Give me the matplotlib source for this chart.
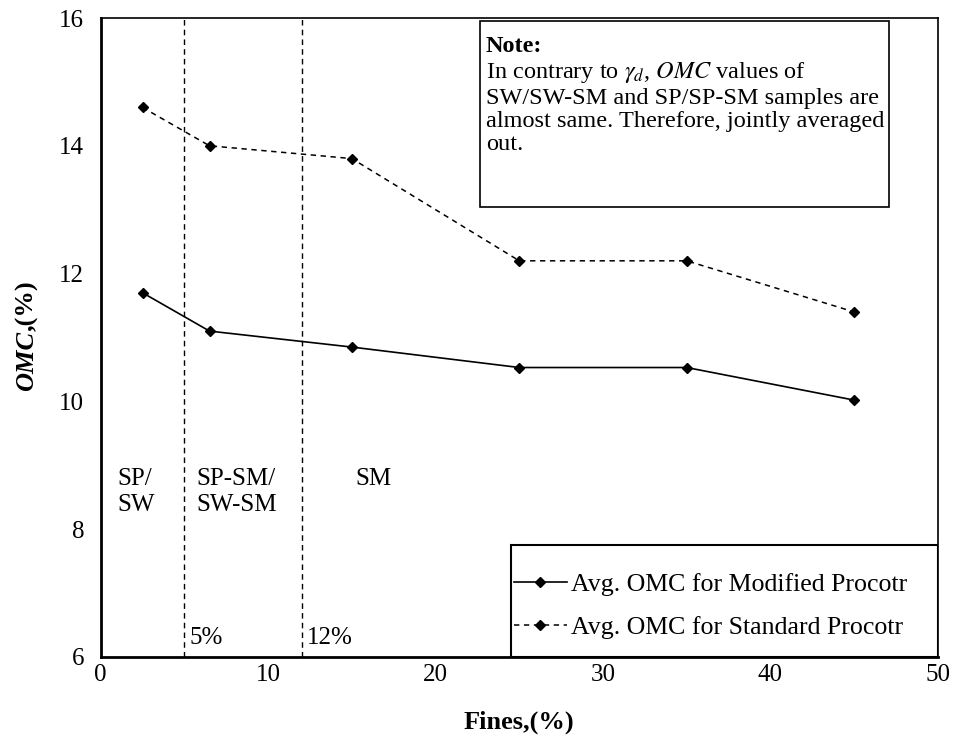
import matplotlib
matplotlib.use("Agg")
import matplotlib.pyplot as plt
from matplotlib.patches import Rectangle

plt.rcParams['font.family'] = ['Liberation Serif', 'DejaVu Serif']
plt.rcParams['mathtext.fontset'] = 'stix'

fines = [2.5, 6.5, 15, 25, 35, 45]
omc_modified = [11.7, 11.1, 10.85, 10.53, 10.53, 10.02]
omc_standard = [14.6, 14.0, 13.8, 12.2, 12.2, 11.4]
boundaries = [5, 12]
boundary_labels = ['5%', '12%']
zone_labels = ['SP/\nSW', 'SP-SM/\nSW-SM', 'SM']
zone_x = [1.0, 5.7, 15.2]
xticks = [0, 10, 20, 30, 40, 50]
yticks = [6, 8, 10, 12, 14, 16]

fig = plt.figure(figsize=(9.59, 7.38), dpi=100)
ax = fig.add_axes([0.105, 0.1098, 0.873, 0.8658])
ax.set_xlim(0, 50)
ax.set_ylim(6, 16)
ax.set_xticks(xticks)
ax.set_yticks(yticks)
ax.tick_params(length=0, labelsize=18)
ax.tick_params(axis='y', pad=12)
ax.tick_params(axis='x', pad=5)
for s in ax.spines.values():
    s.set_linewidth(1.2)
ax.spines['left'].set_linewidth(2)
ax.spines['bottom'].set_linewidth(2)

for b, lab in zip(boundaries, boundary_labels):
    ax.axvline(b, color='black', lw=1, linestyle=(0, (4, 3)), zorder=1)
    ax.text(b + 0.3, 6.12, lab, fontsize=18, ha='left', va='bottom')

for x, lab in zip(zone_x, zone_labels):
    ax.text(x, 8.95, lab, fontsize=18, ha='left', va='top', linespacing=1.2)

ax.plot(fines, omc_modified, color='black', lw=1.2, marker='D', ms=5,
        label='Avg. OMC for Modified Procotr', zorder=3)
ax.plot(fines, omc_standard, color='black', lw=1.1, linestyle=(0, (3.5, 3)),
        marker='D', ms=5, label='Avg. OMC for Standard Procotr', zorder=3)

# Note box
ax.add_patch(Rectangle((22.65, 13.04), 24.4, 2.92, fill=False, edgecolor='black',
                       lw=1.2, zorder=4))
ax.text(23.0, 15.72, 'Note:', fontsize=17.5, fontweight='bold', ha='left', va='top')
ax.text(23.0, 15.34,
        'In contrary to $\\gamma_d$, $OMC$ values of\n'
        'SW/SW-SM and SP/SP-SM samples are\n'
        'almost same. Therefore, jointly averaged\n'
        'out.', fontsize=17.5, ha='left', va='top', linespacing=1.15)

# Legend with a manually drawn frame
ax.add_patch(Rectangle((0.490, 0.0), 0.510, 0.175, transform=ax.transAxes,
                       fill=False, edgecolor='black', lw=1.5, zorder=4))
leg = ax.legend(loc='upper left', bbox_to_anchor=(0.4935, 0.131), fontsize=18.6,
                frameon=False, labelspacing=0.75, handlelength=2.05,
                borderpad=0.0, borderaxespad=0.0, handletextpad=0.18)

# axis labels
ax.set_xlabel('Fines,(%)', fontsize=19, fontweight='bold', labelpad=18)
fig.text(0.028, 0.552, ',(%)', rotation=90, fontsize=19, fontweight='bold',
         ha='center', va='bottom')
fig.text(0.028, 0.552, 'OMC', rotation=90, fontsize=19, fontweight='bold',
         fontstyle='italic', ha='center', va='top')

fig.savefig('out.png', dpi=100)
